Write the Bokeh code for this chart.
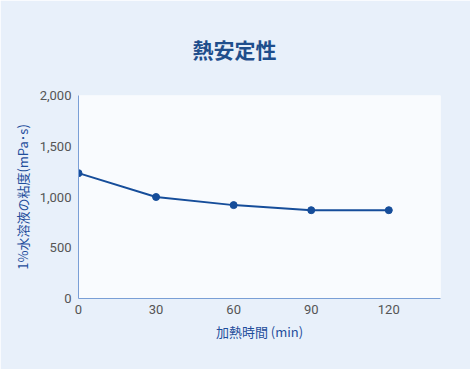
from bokeh.plotting import figure
from bokeh.models import NumeralTickFormatter, FixedTicker, Range1d
from bokeh.embed import file_html
from bokeh.resources import INLINE

minutes = [0, 30, 60, 90, 120]
viscosity = [1235, 1000, 920, 870, 870]
x_ticks = [0, 30, 60, 90, 120]
y_ticks = [0, 500, 1000, 1500, 2000]

BG = "#e8f0fa"
PLOT_BG = "#f9fbfe"
BLUE = "#164d9a"
AXIS = "#7a9fd6"
FONT = "Noto Sans CJK JP"

p = figure(width=470, height=369, output_backend="svg", toolbar_location=None,
           x_range=Range1d(0, 140), y_range=Range1d(0, 2000),
           min_border_left=78, min_border_right=30, min_border_top=95, min_border_bottom=71)
p.background_fill_color = PLOT_BG
p.border_fill_color = BG
p.outline_line_color = None
p.grid.visible = False

p.title.text = "熱安定性"
p.title.align = "left"
p.title.offset = 114
p.title.text_font = FONT
p.title.text_font_size = "21px"
p.title.text_color = "#1f4e8c"
p.title.text_font_style = "bold"
p.title.standoff = 63

p.line(minutes, viscosity, line_color=BLUE, line_width=2)
p.scatter(minutes, viscosity, size=7, fill_color=BLUE, line_color=BLUE)

for ax in (p.xaxis, p.yaxis):
    ax.axis_line_color = AXIS
    ax.axis_line_width = 1
    ax.major_tick_line_color = None
    ax.minor_tick_line_color = None
    ax.major_tick_out = 0
    ax.major_tick_in = 0
    ax.minor_tick_out = 0
    ax.major_label_text_color = "#555555"
    ax.major_label_text_font = "Roboto"
    ax.major_label_text_font_size = "13px"
    ax.axis_label_text_font = FONT
    ax.axis_label_text_font_size = "13px"
    ax.axis_label_text_color = "#1f4e9c"
    ax.axis_label_text_font_style = "normal"

p.xaxis.ticker = FixedTicker(ticks=x_ticks)
p.yaxis.ticker = FixedTicker(ticks=y_ticks)
p.yaxis.formatter = NumeralTickFormatter(format="0,0")
p.xaxis.axis_label = "加熱時間 (min)"
p.yaxis.axis_label = "1%水溶液の粘度(mPa･s)"
p.xaxis.major_label_standoff = 6
p.yaxis.major_label_standoff = 7
p.xaxis.axis_label_standoff = 5
p.yaxis.axis_label_standoff = 5

open("out.html", "w").write(file_html(p, INLINE))
